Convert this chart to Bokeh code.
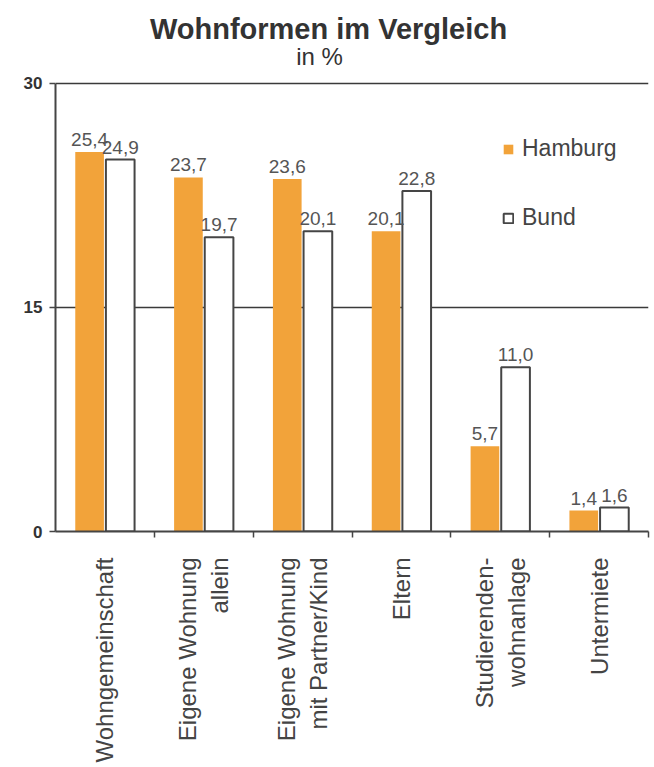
import math
import numpy as np
from bokeh.plotting import figure
from bokeh.models import Range1d, FixedTicker, Label, Legend, LegendItem, ColumnDataSource
from bokeh.transform import dodge
from bokeh.embed import file_html
from bokeh.resources import INLINE
from bokeh.core.properties import value

# ---- data ----
categories = ["Wohngemeinschaft", "Eigene Wohnung\nallein", "Eigene Wohnung\nmit Partner/Kind",
              "Eltern", "Studierenden-\nwohnanlage", "Untermiete"]
hamburg = [25.4, 23.7, 23.6, 20.1, 5.7, 1.4]
bund = [24.9, 19.7, 20.1, 22.8, 11.0, 1.6]
series_names = ["Hamburg", "Bund"]
y_ticks = [0, 15, 30]
title_text = "Wohnformen im Vergleich"
subtitle_text = "in %"

FONT = "Liberation Sans"
ORANGE = "#F2A33A"
DARK = "#454545"

n = len(categories)
centers = [i + 0.5 for i in range(n)]
boundaries = [i + 1 for i in range(n)]
y_max = max(y_ticks)

def fmt(v):
    return f"{v:.1f}".replace(".", ",")

src = ColumnDataSource(dict(
    x=centers,
    hamburg=hamburg,
    bund=bund,
    hamburg_lbl=[fmt(v) for v in hamburg],
    bund_lbl=[fmt(v) for v in bund],
))

# layout: plot area spans from canvas top to the zero line; the value axis ends at y_max
W, H = 650, 765
ZERO_PX = 532      # canvas row of the zero line
TOP_PX = 83        # canvas row of the y_max line
y_end = y_max * ZERO_PX / (ZERO_PX - TOP_PX)

p = figure(width=W, height=H, x_range=Range1d(0, n), y_range=Range1d(0, y_end),
           output_backend="svg", toolbar_location=None,
           min_border_left=55, min_border_right=2, min_border_top=0, min_border_bottom=H - ZERO_PX,
           outline_line_color=None, background_fill_color="white", border_fill_color="white")

OFF = 0.155
BW = 0.29
r_h = p.vbar(x=dodge("x", -OFF, range=p.x_range), top="hamburg", width=BW, bottom=0, source=src,
             fill_color=ORANGE, line_color=None)
r_b = p.vbar(x=dodge("x", OFF, range=p.x_range), top="bund", width=BW, bottom=0, source=src,
             fill_color="white", line_color=DARK, line_width=2)

p.text(x=dodge("x", -OFF, range=p.x_range), y="hamburg", text="hamburg_lbl", source=src,
       y_offset=-6, text_align="center", text_baseline="bottom",
       text_font=value(FONT), text_font_size="19px", text_color="#555555")
p.text(x=dodge("x", OFF, range=p.x_range), y="bund", text="bund_lbl", source=src,
       y_offset=-6, text_align="center", text_baseline="bottom",
       text_font=value(FONT), text_font_size="19px", text_color="#555555")

# axes
xa = p.xaxis[0]
xa.ticker = FixedTicker(ticks=centers, minor_ticks=boundaries)
xa.major_label_overrides = {float(c): lab for c, lab in zip(centers, categories)}
xa.major_label_orientation = math.pi / 2
xa.major_tick_line_color = None
xa.major_tick_out = 0
xa.major_tick_in = 0
xa.minor_tick_out = 6
xa.minor_tick_in = 0
xa.minor_tick_line_color = DARK
xa.minor_tick_line_width = 1.5
xa.axis_line_color = DARK
xa.axis_line_width = 2
xa.major_label_standoff = 20
xa.major_label_text_font = FONT
xa.major_label_text_font_size = "24px"
xa.major_label_text_color = "#444444"

ya = p.yaxis[0]
ya.ticker = FixedTicker(ticks=y_ticks)
ya.bounds = (0, y_max)
ya.minor_tick_line_color = None
ya.major_tick_out = 6
ya.major_tick_in = 0
ya.major_tick_line_color = DARK
ya.major_tick_line_width = 1.5
ya.axis_line_color = DARK
ya.axis_line_width = 2
ya.major_label_text_font = FONT
ya.major_label_text_font_style = "bold"
ya.major_label_text_font_size = "17px"
ya.major_label_text_color = "#333333"
ya.major_label_standoff = 7

p.xgrid.grid_line_color = None
p.ygrid.ticker = FixedTicker(ticks=y_ticks)
p.ygrid.grid_line_color = "#3a3a3a"
p.ygrid.grid_line_width = 1.5

legend = Legend(items=[LegendItem(label=series_names[0], renderers=[r_h]),
                       LegendItem(label=series_names[1], renderers=[r_b])],
                location=(447, 300), orientation="vertical",
                glyph_width=12, glyph_height=12, label_standoff=8, spacing=42,
                padding=0, margin=0, border_line_color=None, background_fill_alpha=0,
                label_text_font=FONT, label_text_font_size="23px", label_text_color="#444444")
p.add_layout(legend)

# titles (screen units, measured from the plot area's lower-left corner)
p.add_layout(Label(x=273, y=ZERO_PX - 29, x_units="screen", y_units="screen", text=title_text,
                   text_align="center", text_baseline="alphabetic", text_font=FONT,
                   text_font_style="bold", text_font_size="29px", text_color="#333333"))
p.add_layout(Label(x=264, y=ZERO_PX - 57, x_units="screen", y_units="screen", text=subtitle_text,
                   text_align="center", text_baseline="alphabetic", text_font=FONT,
                   text_font_size="24px", text_color="#333333"))

open("out.html", "w").write(file_html(p, INLINE))
